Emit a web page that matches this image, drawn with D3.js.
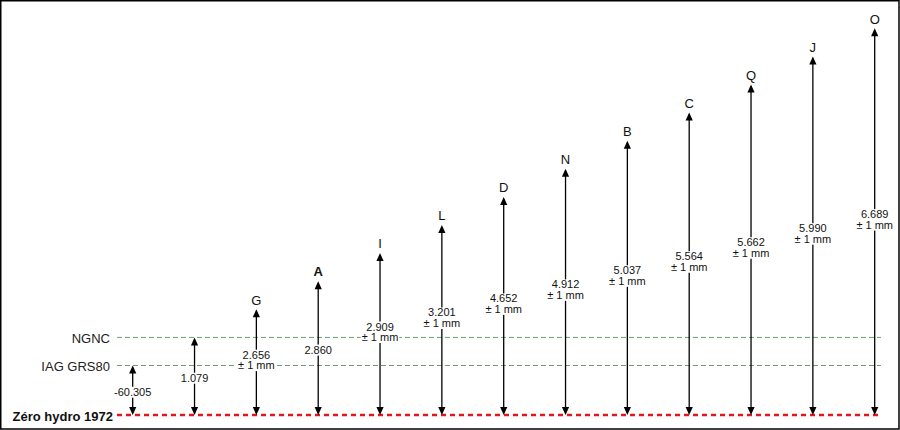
<!DOCTYPE html>
<html>
<head>
<meta charset="utf-8">
<script src="https://cdn.jsdelivr.net/npm/d3@7"></script>
<style>
  html, body { margin: 0; padding: 0; background: #fff; }
  svg { display: block; font-family: "Liberation Sans", Arial, sans-serif; }
</style>
</head>
<body>
<svg id="chart" width="900" height="430"></svg>
<script>
// ---- data ----
const categories = ["IAG GRS80", "NGNC", "G", "A", "I", "L", "D", "N", "B", "C", "Q", "J", "O"];
const pointLabels = ["", "", "G", "A", "I", "L", "D", "N", "B", "C", "Q", "J", "O"];
const valueLabels = ["-60.305", "1.079", "2.656", "2.860", "2.909", "3.201", "4.652", "4.912", "5.037", "5.564", "5.662", "5.990", "6.689"];
const hasTolerance = [false, false, true, false, true, true, true, true, true, true, true, true, true];
const rankLevels = [0, 1, 2, 3, 4, 5, 6, 7, 8, 9, 10, 11, 12];
const boldLabels = ["A"];
const refNames = ["IAG GRS80", "NGNC"];
const refLevels = [0, 1];
const baseName = "Zéro hydro 1972";
const baseLevel = -1.76;
const toleranceText = "± 1 mm";

// ---- layout ----
const W = 900, H = 430;
const svg = d3.select("#chart");

svg.append("rect").attr("x", 0.75).attr("y", 0.75).attr("width", W - 1.75).attr("height", H - 1.75)
  .attr("fill", "#fff").attr("stroke", "#000").attr("stroke-width", 1.5);

const x = d3.scalePoint().domain(categories).range([132.7, 874.7]);
const y = d3.scaleLinear().domain([0, 12]).range([365.5, 28.3]);

const lineX0 = 117, lineX1 = 881;

// reference lines
const refG = svg.append("g");
refNames.forEach((name, i) => {
  const yy = y(refLevels[i]);
  refG.append("line").attr("x1", lineX0).attr("x2", lineX1).attr("y1", yy).attr("y2", yy)
    .attr("stroke", "#6a9e78").attr("stroke-width", 1).attr("stroke-dasharray", "5,3");
  refG.append("text").attr("x", 110).attr("y", yy + 5.5).attr("text-anchor", "end")
    .attr("font-size", 13).attr("fill", "#222").text(name);
});

// baseline
const yBase = y(baseLevel);
svg.append("line").attr("x1", lineX0).attr("x2", lineX1).attr("y1", yBase).attr("y2", yBase)
  .attr("stroke", "#e8141b").attr("stroke-width", 2.6).attr("stroke-dasharray", "5,4");
svg.append("text").attr("x", 113).attr("y", yBase + 6.5).attr("text-anchor", "end")
  .attr("font-size", 13).attr("font-weight", "bold").attr("fill", "#111").text(baseName);

// arrows
const hw = 3.6, hh = 8;
const arrows = svg.append("g");
categories.forEach((c, i) => {
  const cx = x(c);
  const yTop = y(rankLevels[i]);
  const g = arrows.append("g");
  g.append("line").attr("x1", cx).attr("x2", cx).attr("y1", yTop + 2).attr("y2", yBase - 2)
    .attr("stroke", "#000").attr("stroke-width", 1.3);
  g.append("path").attr("d", `M${cx},${yTop}L${cx - hw},${yTop + hh}L${cx + hw},${yTop + hh}Z`).attr("fill", "#000");
  g.append("path").attr("d", `M${cx},${yBase}L${cx - hw},${yBase - hh}L${cx + hw},${yBase - hh}Z`).attr("fill", "#000");

  // point letter
  if (pointLabels[i]) {
    g.append("text").attr("x", cx).attr("y", yTop - 4.8).attr("text-anchor", "middle")
      .attr("font-size", 13)
      .attr("font-weight", boldLabels.includes(pointLabels[i]) ? "bold" : "normal")
      .attr("fill", "#111").text(pointLabels[i]);
  }

  // value label with white background
  const mid = (yTop + yBase) / 2;
  const lg = g.append("g");
  const bg = lg.append("rect").attr("fill", "#fff");
  const t = lg.append("text").attr("text-anchor", "middle").attr("font-size", 11).attr("fill", "#111");
  if (hasTolerance[i]) {
    t.append("tspan").attr("x", cx).attr("y", mid - 3.5).text(valueLabels[i]);
    t.append("tspan").attr("x", cx).attr("y", mid + 7).text(toleranceText);
  } else {
    t.attr("x", cx).attr("y", mid + 5.5).text(valueLabels[i]);
  }
  const bb = t.node().getBBox();
  bg.attr("x", bb.x - 1).attr("y", bb.y + 1).attr("width", bb.width + 2).attr("height", bb.height - 1);
});
</script>
</body>
</html>
